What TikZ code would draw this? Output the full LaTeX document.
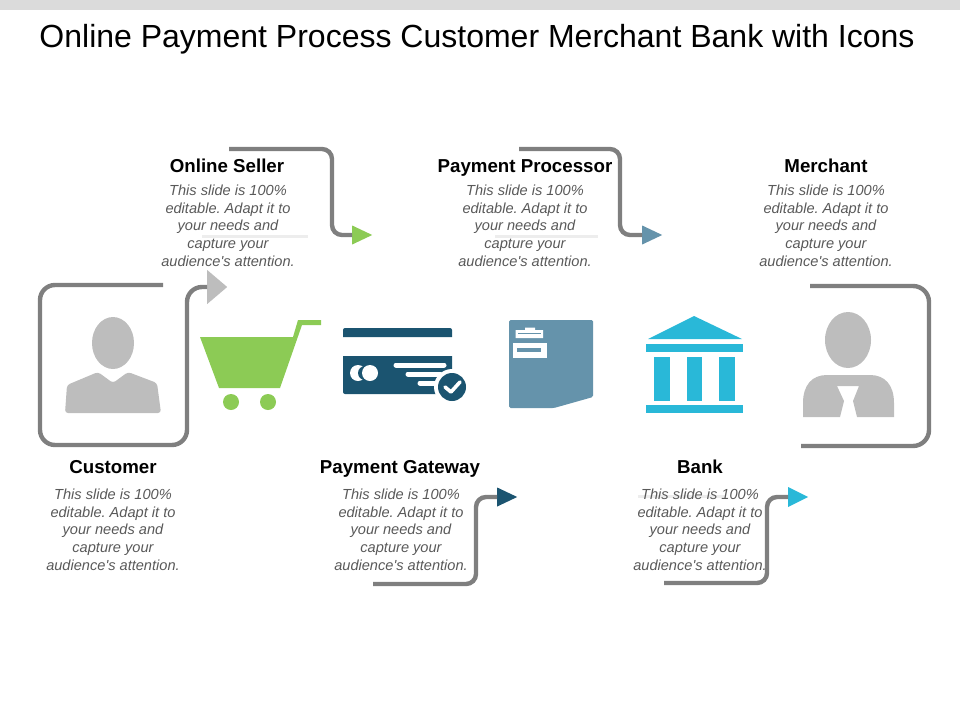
\documentclass[tikz,border=0pt]{standalone}
\usepackage{fontspec}
\setmainfont{Liberation Sans}
\usetikzlibrary{shapes.geometric}
\colorlet{topbar}{black!14}
\definecolor{wire}{HTML}{7F7F7F}
\definecolor{silhouette}{HTML}{BDBDBD}
\definecolor{grass}{HTML}{8CCB55}
\definecolor{navy}{HTML}{1B5470}
\definecolor{steel}{HTML}{6593AB}
\definecolor{sky}{HTML}{29B8D8}
\definecolor{bodygrey}{HTML}{595959}
\tikzset{
  heading/.style={font=\fontsize{18.7}{20}\selectfont\bfseries,inner sep=0pt,anchor=base},
  bodytext/.style={font=\fontsize{14.6}{17.7}\selectfont\itshape\frenchspacing,text=bodygrey,align=center,inner sep=0pt},
  wireline/.style={draw=wire,line width=4.4pt,rounded corners=10pt},
  ghostline/.style={draw=black!7,line width=3pt},
  arrowhead/.style={isosceles triangle,isosceles triangle stretches,shape border rotate=0,
    minimum width=#1,minimum height=20pt,inner sep=0pt,anchor=lower side},
}
\newcommand{\slidetext}{This slide is 100\%\\editable. Adapt it to\\your needs and\\capture your\\audience\textquotesingle s attention.}

\begin{document}
\begin{tikzpicture}[x=1pt,y=-1pt]
\useasboundingbox (0,0) rectangle (960,720);
\fill[topbar] (0,0) rectangle (960,10);
\node[inner sep=0pt,font=\fontsize{32}{36}\selectfont] (title) at (477,39) {Online Payment Process Customer Merchant Bank with Icons};

% faint rules under the text
\draw[ghostline] (202,236) -- (308,236);
\draw[ghostline] (495,236) -- (598,236);
\draw[ghostline] (638,496) -- (725,496);

% customer
\fill[silhouette] (113,343) ellipse (21 and 26);
\fill[silhouette,rounded corners=3pt] (65,413) -- (67,385) -- (98,372) -- (113,383) -- (128,372) -- (157,383) -- (161,413) -- cycle;
% cart
\fill[grass] (200,337) -- (293,337) -- (298,320) -- (321,320) -- (321,325) -- (302,325) -- (280,388) -- (219,388) -- cycle;
\fill[grass] (231,402) circle (8);
\fill[grass] (268,402) circle (8);
% card
\fill[navy] (343,337) [rounded corners=2pt] -- (343,328) -- (452,328) [sharp corners] -- (452,337) -- cycle;
\fill[navy] (343,356) [rounded corners=2pt] -- (343,394) -- (452,394) [sharp corners] -- (452,356) -- cycle;
\fill[white] (358,373) circle (8);
\fill[navy] (365,373) circle (7);
\fill[white] (370,373) circle (8);
\draw[white,line width=5pt,line cap=round] (396,365) -- (444,365);
\draw[white,line width=5pt,line cap=round] (408,374) -- (440,374);
\draw[white,line width=5pt,line cap=round] (420,383) -- (440,383);
\fill[white] (452,387) circle (18);
\fill[navy] (452,387) circle (14);
\draw[white,line width=3.6pt,line cap=round,line join=round] (445,387) -- (451,392) -- (460,382);
% document
\fill[steel,rounded corners=1.5pt] (509,320) -- (593,320) -- (593,397) -- (554,408) -- (509,408) -- cycle;
\fill[white] (515.5,338) -- (515.5,330) -- (525,330) -- (525,327.5) -- (535,327.5) -- (535,330) -- (543,330) -- (543,338) -- cycle;
\fill[steel] (518,332.5) rectangle (541,334);
\fill[white] (513,343) rectangle (547,358);
\fill[steel] (517,348) rectangle (541,352);
% bank
\fill[sky] (694,316) -- (742,339) -- (648,339) -- cycle;
\fill[sky] (646,344) rectangle (743,352);
\fill[sky] (654,357) rectangle (670,401);
\fill[sky] (687,357) rectangle (702,401);
\fill[sky] (719,357) rectangle (735,401);
\fill[sky] (646,405) rectangle (743,413);
% merchant
\fill[silhouette] (848,340) ellipse (23 and 28);
\fill[silhouette] (803,417) -- (803,403) .. controls (803,385) and (812,375) .. (827,375) -- (870,375) .. controls (885,375) and (894,385) .. (894,403) -- (894,417) -- (857,417) -- (853,401) -- (859,386) -- (837,386) -- (844,401) -- (840,417) -- cycle;

% connector ends
\coordinate (customerstart) at (163,285);
\coordinate (customerleft) at (40,365);
\coordinate (customerright) at (187,365);
\coordinate (customerbottom) at (113,445);
\coordinate (sellerstart) at (229,149);
\coordinate (sellermid) at (332,192);
\coordinate (processorstart) at (519,149);
\coordinate (processormid) at (620,192);
\coordinate (gatewaystart) at (373,584);
\coordinate (gatewaymid) at (476,540);
\coordinate (bankstart) at (664,583);
\coordinate (bankmid) at (767,540);
\coordinate (merchantstart) at (810,286);
\coordinate (merchantright) at (929,365);
\coordinate (merchantend) at (801,446);

\node[arrowhead=34pt,fill=silhouette] (customerhead) at (207,287) {};
\node[arrowhead=19pt,fill=grass] (sellerhead) at (352,235) {};
\node[arrowhead=19pt,fill=steel] (processorhead) at (642,235) {};
\node[arrowhead=19pt,fill=navy] (gatewayhead) at (497,497) {};
\node[arrowhead=20pt,fill=sky] (bankhead) at (788,497) {};

\draw[wireline,rounded corners=15pt] (customerstart) -| (customerleft) |- (customerbottom) -| (customerright) |- (customerhead.lower side);
\draw[wireline] (sellerstart) -| (sellermid) |- (sellerhead.lower side);
\draw[wireline] (processorstart) -| (processormid) |- (processorhead.lower side);
\draw[wireline] (gatewaystart) -| (gatewaymid) |- (gatewayhead.lower side);
\draw[wireline] (bankstart) -| (bankmid) |- (bankhead.lower side);
\draw[wireline,rounded corners=16pt] (merchantstart) -| (merchantright) |- (merchantend);

% labels
\node[heading] (sellerlabel) at (227,172) {Online Seller};
\node[bodytext] (sellertext) at (228,225.5) {\slidetext};
\node[heading] (processorlabel) at (525,172) {Payment Processor};
\node[bodytext] (processortext) at (525,225.5) {\slidetext};
\node[heading] (merchantlabel) at (826,172) {Merchant};
\node[bodytext] (merchanttext) at (826,225.5) {\slidetext};
\node[heading] (customerlabel) at (113,473) {Customer};
\node[bodytext] (customertext) at (113,529.5) {\slidetext};
\node[heading] (gatewaylabel) at (400,473) {Payment Gateway};
\node[bodytext] (gatewaytext) at (401,529.5) {\slidetext};
\node[heading] (banklabel) at (700,473) {Bank};
\node[bodytext] (banktext) at (700,529.5) {\slidetext};
\end{tikzpicture}
\end{document}
